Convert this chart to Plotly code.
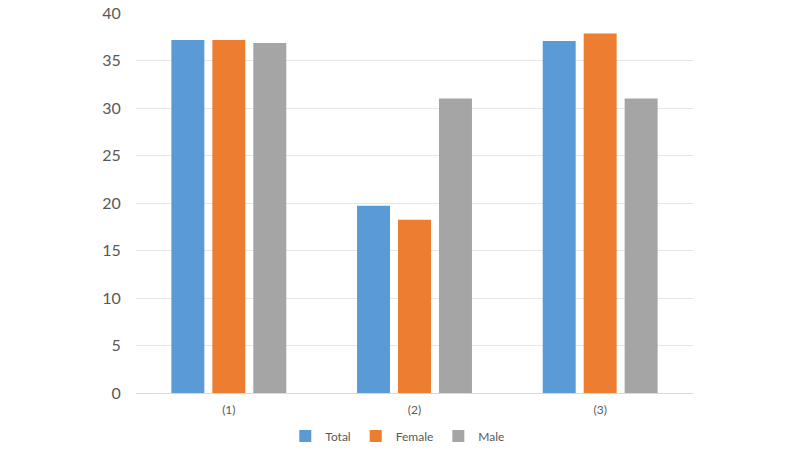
import plotly.graph_objects as go

categories = ["(1)", "(2)", "(3)"]
total = [37.15, 19.7, 37.05]
female = [37.15, 18.25, 37.85]
male = [36.85, 31.0, 31.0]
y_ticks = [0, 5, 10, 15, 20, 25, 30, 35, 40]

series = [("Total", total, "#5B9BD5"), ("Female", female, "#ED7D31"), ("Male", male, "#A5A5A5")]

fig = go.Figure()
for name, vals, color in series:
    fig.add_trace(go.Bar(x=categories, y=vals, name=name, marker=dict(color=color, line=dict(width=0))))

fig.update_layout(
    width=800, height=450,
    margin=dict(l=136, r=107, t=13, b=57, autoexpand=False),
    paper_bgcolor="white", plot_bgcolor="white",
    barmode="group", bargap=0.338, bargroupgap=0.195,
    font=dict(family="Lato, Open Sans, sans-serif", color="#595959"),
    showlegend=True,
    legend=dict(orientation="h", x=0.47, xanchor="center", y=-0.113, yanchor="middle",
                font=dict(size=12, color="#595959"), itemwidth=30, traceorder="normal"),
)
fig.update_xaxes(showgrid=False, showline=True, linecolor="#d9d9d9", linewidth=1, automargin=False,
                 tickfont=dict(size=12, color="#595959"), ticks="", ticklabelstandoff=6)
fig.update_yaxes(range=[0, 40], tickvals=y_ticks, showgrid=True, gridcolor="#e6e6e6", gridwidth=1,
                 zeroline=False, showline=False, tickfont=dict(size=16, color="#595959"), automargin=False,
                 ticks="outside", ticklen=11, tickcolor="rgba(0,0,0,0)")

fig.write_html("out.html", config={"displayModeBar": False},
               post_script="document.body.style.margin='0';")
